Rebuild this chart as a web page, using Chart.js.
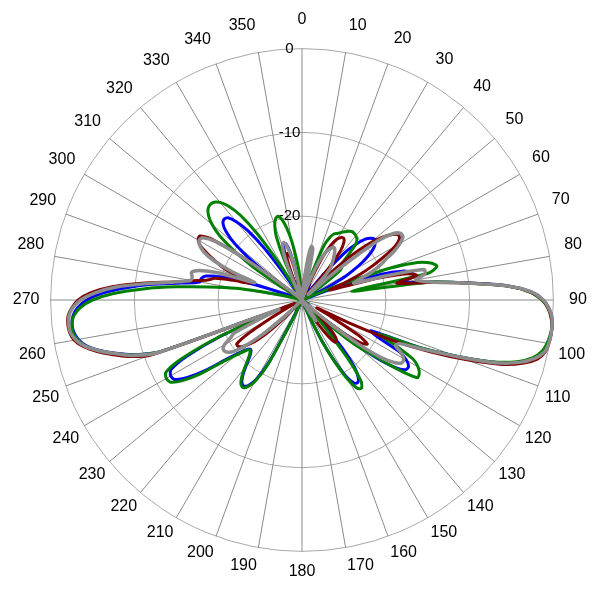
<!DOCTYPE html>
<html>
<head>
<meta charset="utf-8">
<script src="https://cdn.jsdelivr.net/npm/chart.js@4/dist/chart.umd.min.js"></script>
<style>
  html, body { margin: 0; padding: 0; background: #fff; }
</style>
</head>
<body>
<canvas id="pattern" width="600" height="600"></canvas>
<script>
// azimuth in degrees, one sample every 2 degrees
const angles = [];
for (let a = 0; a < 360; a += 2) angles.push(a);

const radialTicks = [-30, -20, -10, 0];

// relative level in dB, rows of 20 degrees
const grayDb = [
  -30, -30, -30, -28, -25, -23.5, -23.8, -27, -30, -30,
  -29, -27, -25, -23.8, -23.2, -22.8, -22.7, -23, -23.5, -24,
  -24.5, -25, -26.5, -28.5, -29, -24, -18.5, -16.5, -15.8, -15.8,
  -16.5, -17.5, -18.8, -19.8, -21, -22.5, -23.5, -19.5, -15, -15,
  -16.2, -14.5, -10.5, -5.5, -2.6, -1.2, -0.5, -0.1, 0, 0,
  -0.1, -0.4, -1.3, -3, -5.8, -10.2, -14.2, -17.2, -17.6, -16.6,
  -16, -15.9, -16.6, -18.3, -21.5, -25.5, -29, -30, -30, -30,
  -30, -30, -28, -27, -28, -30, -30, -30, -30, -30,
  -30, -30, -30, -30, -30, -30, -30, -30, -30, -30,
  -30, -30, -30, -30, -30, -30, -30, -30, -30, -30,
  -30, -30, -30, -30, -30, -30, -30, -30, -30, -30,
  -30, -30, -30, -28, -25, -22.5, -20.5, -19.4, -19, -18.9,
  -19.3, -20.3, -21, -25, -27, -11.5, -8.6, -6.8, -5, -3.5,
  -2.6, -2.1, -2, -2.1, -2.6, -3.6, -5.3, -7.8, -11.3, -14.6,
  -16.5, -16.6, -16.4, -17.2, -19.5, -24, -21, -18.5, -17, -16.2,
  -15.8, -16, -17.5, -22, -28, -30, -30, -30, -30, -30,
  -30, -30, -30, -30, -30, -30, -30, -29, -27, -24.5,
  -23.2, -22.8, -23.2, -24.5, -27, -30, -30, -30, -30, -30
];

const redDb = [
  -30, -30, -29, -27.5, -26.5, -26.5, -27.5, -29.5, -30, -30,
  -30, -30, -27, -24, -22.5, -21.6, -21.2, -21.1, -21.5, -22.5,
  -25, -28.5, -29, -26, -22, -19.5, -17.8, -16.7, -16.1, -16.3,
  -17.2, -18.8, -20.5, -22.3, -24.5, -26.5, -25, -20.5, -17, -16,
  -18.5, -15, -10.5, -5.6, -2.7, -1.3, -0.6, -0.2, 0, 0,
  -0.1, -0.3, -1, -2.6, -5.2, -9.2, -13.5, -18, -24, -28,
  -26, -22, -20.6, -21.2, -23, -26, -27.5, -26.5, -25, -24,
  -23.6, -23.6, -24.5, -26.5, -29, -30, -30, -30, -30, -30,
  -30, -30, -30, -30, -30, -30, -30, -30, -30, -30,
  -30, -30, -30, -30, -30, -30, -30, -30, -30, -30,
  -30, -30, -30, -30, -30, -30, -30, -30, -30, -30,
  -30, -30, -28, -25, -23, -21.8, -21, -20.6, -20.6, -22.5,
  -26, -28, -29, -29, -27, -10.8, -8.2, -6.4, -4.7, -3.3,
  -2.4, -2, -1.9, -2, -2.5, -3.3, -4.8, -7.3, -10.8, -14.5,
  -16.8, -18.5, -19.3, -21.5, -23.5, -22, -20, -18.8, -17.5, -16.3,
  -15.7, -15.6, -17, -22, -28, -30, -30, -30, -30, -30,
  -30, -30, -30, -30, -30, -30, -30, -30, -29, -27,
  -25, -24.2, -24.2, -25.5, -28, -30, -30, -30, -30, -30
];

const greenDb = [
  -30, -30, -30, -30, -30, -30, -30, -30, -30, -30,
  -27, -23, -21.8, -21.2, -21, -20.7, -20.4, -20.1, -19.9, -19.9,
  -20, -20.2, -20.8, -22.5, -23.6, -23.8, -24.2, -27, -30, -30,
  -30, -30, -30, -30, -26, -19, -15.5, -14, -13.4, -14.5,
  -24, -14.5, -10.5, -5.6, -2.8, -1.4, -0.6, -0.2, 0, -0.1,
  -0.3, -0.7, -1.6, -3.3, -6.2, -10.5, -15, -20, -17.5, -15,
  -14, -13.5, -13.4, -16, -19.5, -21.5, -25, -29, -30, -28,
  -26, -21, -18, -17.3, -17.6, -19, -21.5, -24.5, -28, -30,
  -30, -30, -30, -30, -30, -30, -30, -30, -30, -30,
  -30, -30, -30, -30, -30, -30, -30, -30, -30, -30,
  -30, -30, -30, -27, -21, -18.8, -17.8, -17.4, -17.6, -18.3,
  -19.3, -20.3, -21, -21.4, -21, -19.8, -18, -15, -12.8, -11.5,
  -11.3, -11.6, -14, -19, -26, -12, -8.8, -6.8, -5, -3.6,
  -2.8, -2.4, -2.4, -2.7, -3.5, -5, -7.5, -11, -15, -18.8,
  -22, -26, -28, -30, -30, -30, -30, -30, -30, -30,
  -30, -28, -23, -20, -17.5, -16, -15, -14.4, -14.2, -14.3,
  -14.8, -15.8, -17.5, -20.5, -25, -29, -30, -30, -25, -21.8,
  -20.5, -19.8, -19.6, -20.1, -21.2, -22.8, -24.8, -26.5, -29, -30
];

const blueDb = [
  -30, -30, -30, -30, -30, -30, -30, -30, -30, -30,
  -30, -29, -28, -28, -29, -30, -30, -30, -30, -30,
  -26, -22.5, -20.8, -19.6, -19, -18.7, -18.9, -19.4, -20.3, -21.5,
  -23, -24.5, -27, -30, -30, -25, -20, -17.5, -16.5, -16.3,
  -18, -14.5, -10.3, -5.5, -2.6, -1.2, -0.5, -0.1, 0, 0,
  -0.2, -0.5, -1.4, -3.1, -6, -10.4, -14.8, -21, -20, -16.8,
  -15.6, -15, -15.1, -16.3, -19, -22.5, -26.5, -30, -30, -27,
  -22.5, -19.8, -18.6, -18.1, -18.3, -19.5, -21.7, -24.5, -28, -30,
  -30, -30, -30, -30, -30, -30, -30, -30, -30, -30,
  -30, -30, -30, -30, -30, -30, -30, -30, -30, -30,
  -30, -30, -30, -27.5, -21.5, -19, -18, -17.6, -17.8, -18.5,
  -19.5, -20.5, -21.2, -21.5, -21.2, -20.2, -18.5, -15.6, -13.4, -12.1,
  -11.9, -12.3, -14.8, -19.5, -26, -12, -8.9, -6.9, -5.1, -3.7,
  -2.9, -2.5, -2.4, -2.6, -3.2, -4.3, -6.2, -9, -12, -15.5,
  -17.6, -17.7, -18.2, -20, -24, -28, -30, -30, -30, -30,
  -30, -30, -30, -27, -22.5, -19.5, -17.8, -16.9, -16.6, -16.8,
  -17.8, -19.5, -22.5, -27, -30, -30, -30, -30, -30, -26.5,
  -24, -23, -23, -24, -26.5, -30, -30, -30, -30, -30
];

Chart.defaults.font.family = '"Liberation Sans", Arial, sans-serif';

const labelSize = 16;
const tickSize = 15;

// keep the angle labels centred on one ring, like the original plot
function labelPadding(ctx) {
  const a = angles[ctx.index];
  if (a % 10 !== 0) return 5;
  const rad = a * Math.PI / 180;
  const w = String(a).length * 0.556 * labelSize;
  const ring = 24.5 + 4.5 * Math.cos(rad);
  const extra = tickSize / 2;
  return ring - extra - (w / 2) * Math.abs(Math.sin(rad)) - (labelSize * 0.6) * Math.abs(Math.cos(rad));
}

const line = (data, color, width) => ({
  data: data,
  borderColor: color,
  backgroundColor: 'transparent',
  borderWidth: width,
  pointRadius: 0,
  fill: false,
  tension: 0.25
});

new Chart(document.getElementById('pattern'), {
  type: 'radar',
  data: {
    labels: angles,
    datasets: [
      line(grayDb, '#8c8c8c', 3.5),
      line(redDb, '#800000', 3),
      line(greenDb, '#008000', 3),
      line(blueDb, '#0000ff', 3)
    ]
  },
  options: {
    responsive: false,
    animation: false,
    layout: { padding: { top: 7, bottom: 13, left: 9, right: 9 } },
    plugins: {
      legend: { display: false },
      tooltip: { enabled: false }
    },
    scales: {
      r: {
        min: radialTicks[0],
        max: radialTicks[radialTicks.length - 1],
        ticks: {
          stepSize: 10,
          showLabelBackdrop: false,
          backdropPadding: 0,
          color: '#000',
          font: { size: tickSize },
          callback: v => (v === radialTicks[0] ? '' : v + '      ')
        },
        grid: { circular: true, color: '#a8a8a8', lineWidth: 1 },
        angleLines: {
          color: '#8a8a8a',
          lineWidth: ctx => (angles[ctx.index] % 10 === 0 ? 1 : 0)
        },
        pointLabels: {
          callback: l => (l % 10 === 0 ? String(l) : ''),
          color: '#000',
          font: { size: labelSize },
          padding: labelPadding
        }
      }
    }
  }
});
</script>
</body>
</html>
